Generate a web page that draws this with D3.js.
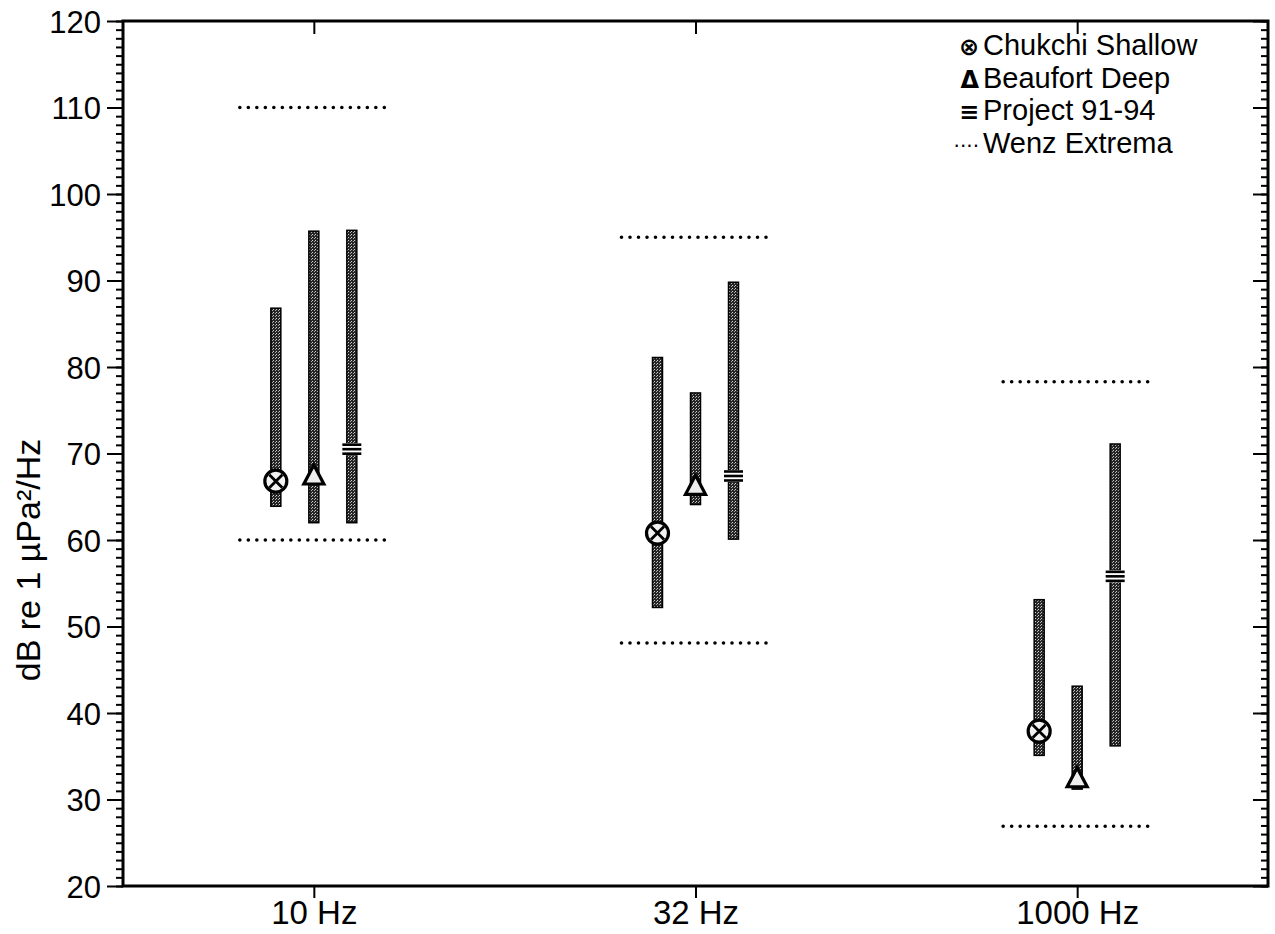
<!DOCTYPE html>
<html lang="en">
<head>
    <meta charset="UTF-8">
    <title>Ambient noise levels</title>
    <script src="https://cdn.jsdelivr.net/npm/d3@7"></script>
    <style>
        body { margin: 0; background: #fff; }
        svg text { font-family: "Liberation Sans", Arial, sans-serif; fill: #000; }
        .axis path, .axis line { stroke: #000; }
    </style>
</head>
<body>
<svg width="1275" height="934"></svg>

<script>
    // data (dB re 1 uPa^2/Hz)
    var freqs = ["10 Hz", "32 Hz", "1000 Hz"];
    var seriesNames = ["Chukchi Shallow", "Beaufort Deep", "Project 91-94"];

    var chukchiLow = [63.9, 52.2, 35.1];
    var chukchiHigh = [86.8, 81.1, 53.1];
    var chukchiMark = [66.8, 60.8, 37.9];

    var beaufortLow = [62.0, 64.1, 31.2];
    var beaufortHigh = [95.7, 77.0, 43.1];
    var beaufortMark = [67.4, 66.2, 32.4];

    var projectLow = [62.0, 60.1, 36.2];
    var projectHigh = [95.8, 89.8, 71.1];
    var projectMark = [70.5, 67.4, 55.8];

    var wenzLow = [60, 48.1, 26.9];
    var wenzHigh = [110, 95, 78.3];

    var yTicks = [20, 30, 40, 50, 60, 70, 80, 90, 100, 110, 120];

    var svg = d3.select("svg");

    // plot box (don't use "top" as a global, it clashes with window.top)
    var plotL = 123, plotR = 1268, plotT = 21, plotB = 886;

    var x = d3.scalePoint().domain(freqs).range([plotL, plotR]).padding(0.5);
    var xOff = d3.scalePoint().domain(seriesNames).range([-38, 38]);
    var y = d3.scaleLinear().domain([20, 120]).range([plotB, plotT]);

    // stipple used for the bars
    var defs = svg.append("defs");
    var pat = defs.append("pattern")
        .attr("id", "stip")
        .attr("patternUnits", "userSpaceOnUse")
        .attr("width", 3).attr("height", 3);
    pat.append("rect").attr("width", 3).attr("height", 3).attr("fill", "#262626");
    pat.append("rect").attr("x", 0).attr("y", 0).attr("width", 1).attr("height", 1).attr("fill", "#d0d0d0");
    pat.append("rect").attr("x", 2).attr("y", 1).attr("width", 1).attr("height", 1).attr("fill", "#a8a8a8");

    var series = [
        { name: seriesNames[0], low: chukchiLow, high: chukchiHigh, mark: chukchiMark, sym: "circle" },
        { name: seriesNames[1], low: beaufortLow, high: beaufortHigh, mark: beaufortMark, sym: "tri" },
        { name: seriesNames[2], low: projectLow, high: projectHigh, mark: projectMark, sym: "eq" }
    ];

    // Wenz extrema dotted lines
    var wenz = [];
    freqs.forEach(function (f, i) {
        wenz.push({ f: f, v: wenzLow[i] });
        wenz.push({ f: f, v: wenzHigh[i] });
    });
    svg.append("g").selectAll("line")
        .data(wenz)
        .enter().append("line")
        .attr("x1", function (d) { return x(d.f) - 74; })
        .attr("x2", function (d) { return x(d.f) + 74; })
        .attr("y1", function (d) { return y(d.v); })
        .attr("y2", function (d) { return y(d.v); })
        .attr("stroke", "#000")
        .attr("stroke-width", 3.6)
        .attr("stroke-linecap", "round")
        .attr("stroke-dasharray", "0 8.5");

    // bars
    var barW = 10;
    var rows = [];
    series.forEach(function (s) {
        freqs.forEach(function (f, i) {
            rows.push({ s: s, f: f, low: s.low[i], high: s.high[i], mark: s.mark[i] });
        });
    });

    svg.append("g").selectAll("rect")
        .data(rows)
        .enter().append("rect")
        .attr("x", function (d) { return x(d.f) + xOff(d.s.name) - barW / 2; })
        .attr("y", function (d) { return y(d.high); })
        .attr("width", barW)
        .attr("height", function (d) { return y(d.low) - y(d.high); })
        .attr("fill", "url(#stip)")
        .attr("stroke", "#000")
        .attr("stroke-width", 1.5);

    // markers
    var marks = svg.append("g").selectAll("g")
        .data(rows)
        .enter().append("g")
        .attr("transform", function (d) {
            return "translate(" + (x(d.f) + xOff(d.s.name)) + "," + y(d.mark) + ")";
        });

    marks.filter(function (d) { return d.s.sym === "circle"; })
        .each(function () {
            var g = d3.select(this);
            g.append("circle").attr("r", 11).attr("fill", "#f2f2f2")
                .attr("stroke", "#000").attr("stroke-width", 3.2);
            g.append("path").attr("d", "M-6.5,-6.5L6.5,6.5M6.5,-6.5L-6.5,6.5")
                .attr("stroke", "#000").attr("stroke-width", 2.8);
        });

    marks.filter(function (d) { return d.s.sym === "tri"; })
        .append("path")
        .attr("d", "M0,-11L10,8L-10,8Z")
        .attr("fill", "#eee")
        .attr("stroke", "#000")
        .attr("stroke-width", 3.2)
        .attr("stroke-linejoin", "miter");

    marks.filter(function (d) { return d.s.sym === "eq"; })
        .each(function () {
            var g = d3.select(this);
            g.append("rect").attr("x", -9.5).attr("y", -6).attr("width", 19).attr("height", 12).attr("fill", "#fff");
            [-4.5, 0, 4.5].forEach(function (dy) {
                g.append("line").attr("x1", -9.5).attr("x2", 9.5).attr("y1", dy).attr("y2", dy)
                    .attr("stroke", "#000").attr("stroke-width", 2.6);
            });
        });

    // axes
    var minor = d3.range(20, 121, 1);

    svg.append("g").attr("class", "axis")
        .attr("transform", "translate(" + plotL + ",0)")
        .call(d3.axisLeft(y).tickValues(minor).tickSize(7).tickFormat(""))
        .call(function (g) { g.selectAll("line").attr("stroke-width", 2); g.select(".domain").remove(); });

    svg.append("g").attr("class", "axis")
        .attr("transform", "translate(" + plotL + ",0)")
        .call(d3.axisLeft(y).tickValues(yTicks).tickSize(16).tickPadding(6))
        .call(function (g) {
            g.select(".domain").remove();
            g.selectAll("line").attr("stroke-width", 2);
            g.selectAll("text").style("font-size", "31px").attr("dy", "0.36em");
        });

    svg.append("g").attr("class", "axis")
        .attr("transform", "translate(" + plotR + ",0)")
        .call(d3.axisLeft(y).tickValues(minor).tickSize(7).tickFormat(""))
        .call(function (g) { g.selectAll("line").attr("stroke-width", 2); g.select(".domain").remove(); });

    svg.append("g").attr("class", "axis")
        .attr("transform", "translate(" + plotR + ",0)")
        .call(d3.axisLeft(y).tickValues(yTicks).tickSize(15).tickFormat(""))
        .call(function (g) { g.selectAll("line").attr("stroke-width", 2); g.select(".domain").remove(); });

    svg.append("g").attr("class", "axis")
        .attr("transform", "translate(0," + plotB + ")")
        .call(d3.axisBottom(x).tickSize(12).tickPadding(3))
        .call(function (g) {
            g.select(".domain").remove();
            g.selectAll("line").attr("stroke-width", 2);
            g.selectAll("text").style("font-size", "33px");
        });

    svg.append("g").attr("class", "axis")
        .attr("transform", "translate(0," + plotT + ")")
        .call(d3.axisBottom(x).tickSize(13).tickFormat(""))
        .call(function (g) {
            g.select(".domain").remove();
            g.selectAll("line").attr("stroke-width", 2);
        });

    // frame
    svg.append("rect")
        .attr("x", plotL).attr("y", plotT)
        .attr("width", plotR - plotL).attr("height", plotB - plotT)
        .attr("fill", "none")
        .attr("stroke", "#000")
        .attr("stroke-width", 3);

    // y axis title
    svg.append("text")
        .attr("transform", "translate(40,560) rotate(-90)")
        .attr("text-anchor", "middle")
        .style("font-size", "34px")
        .text("dB re 1 µPa²/Hz");

    // legend
    var legendItems = [
        { sym: "⊗", label: seriesNames[0] },
        { sym: "Δ", label: seriesNames[1] },
        { sym: "≡", label: seriesNames[2] },
        { sym: "····", label: "Wenz Extrema" }
    ];
    var legend = svg.append("g").attr("transform", "translate(983,55)");
    legend.selectAll("text")
        .data(legendItems)
        .enter().append("text")
        .attr("x", 0)
        .attr("y", function (d, i) { return i * 32.5; })
        .style("font-size", "29px")
        .text(function (d) { return d.label; });
    legend.selectAll("text.sym")
        .data(legendItems)
        .enter().append("text")
        .attr("class", "sym")
        .attr("x", -4)
        .attr("y", function (d, i) { return i * 32.5; })
        .attr("text-anchor", "end")
        .style("font-family", "'DejaVu Sans', sans-serif")
        .style("font-weight", function (d, i) { return i === 3 ? "normal" : "bold"; })
        .style("font-size", function (d, i) { return i === 3 ? "20px" : "24px"; })
        .text(function (d) { return d.sym; });
</script>
</body>
</html>
